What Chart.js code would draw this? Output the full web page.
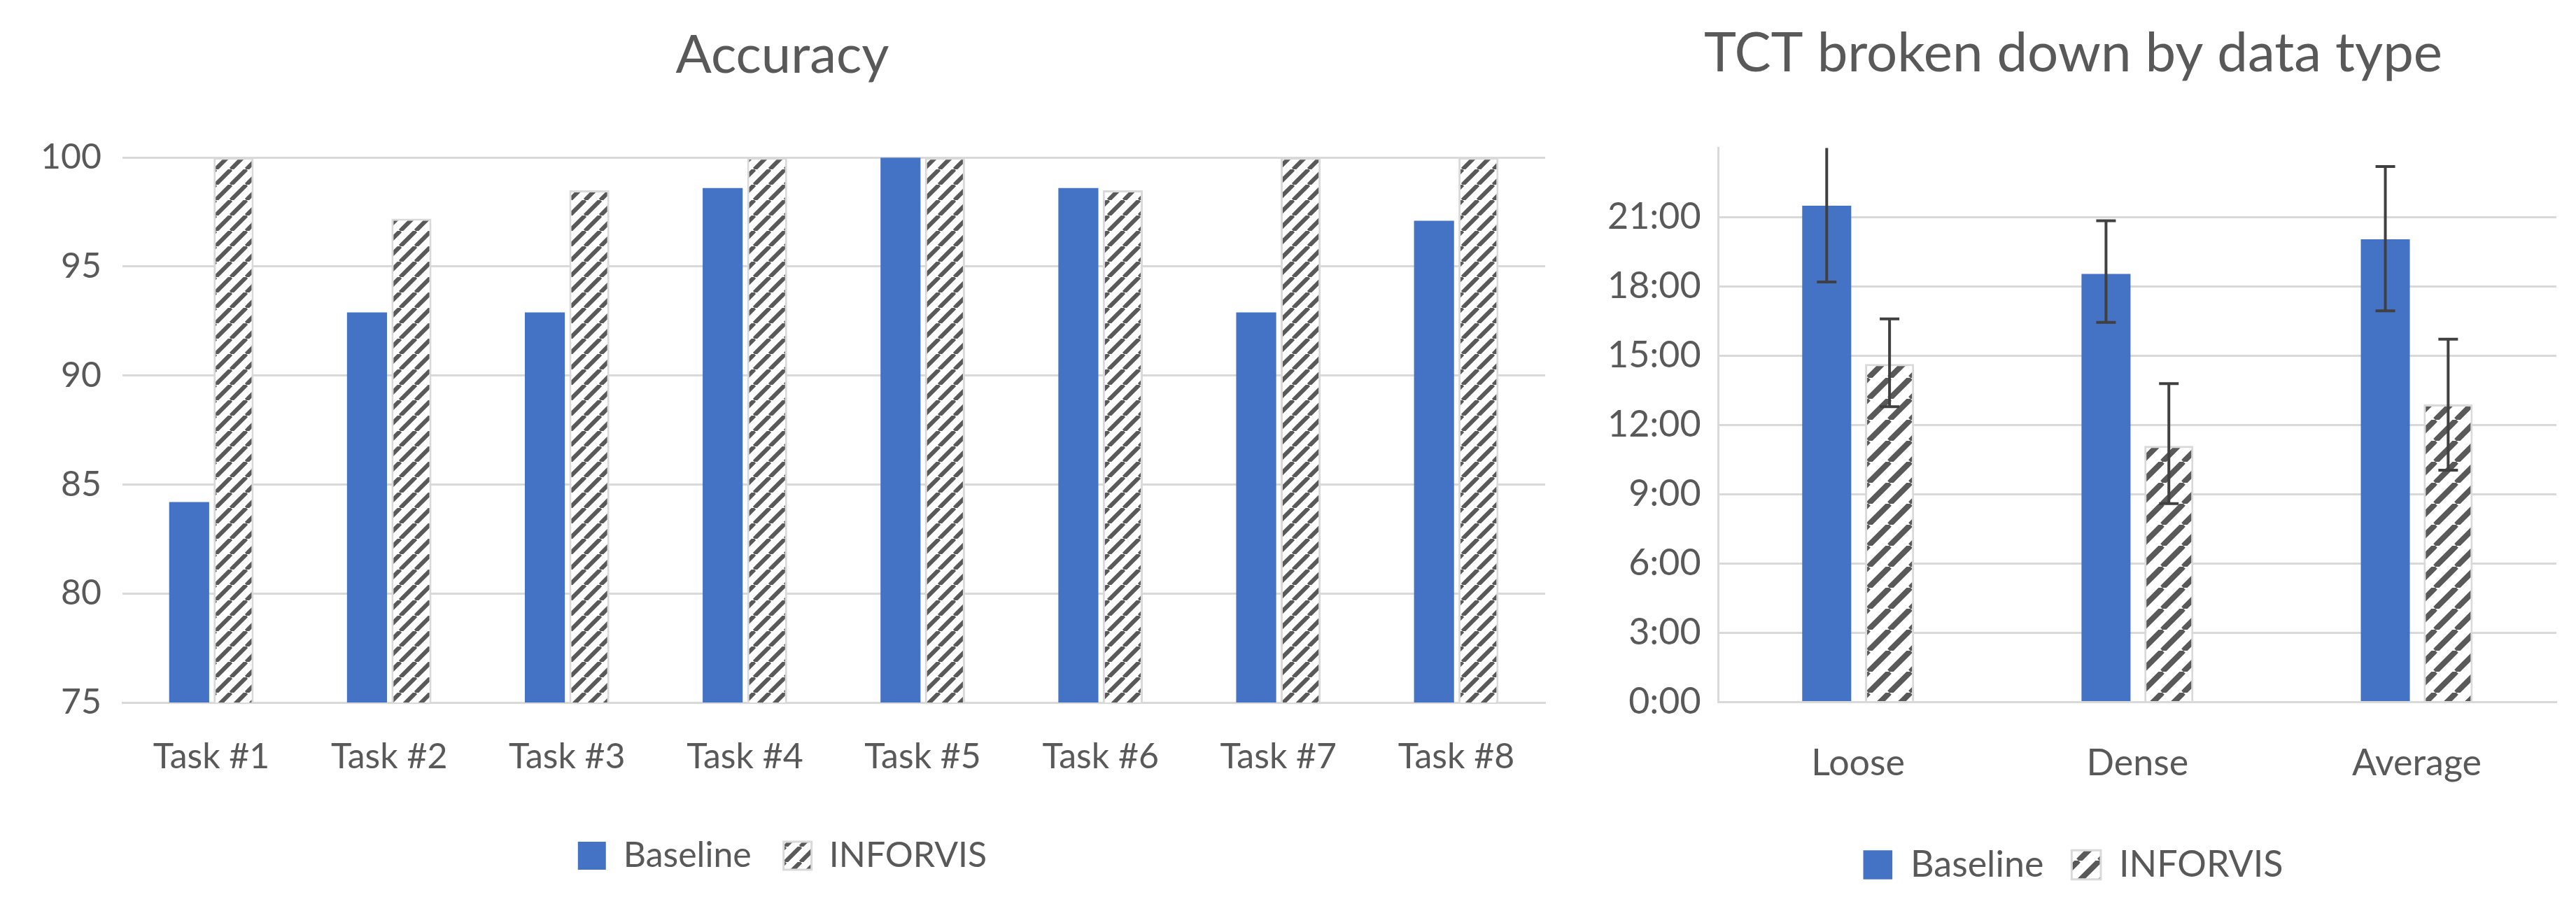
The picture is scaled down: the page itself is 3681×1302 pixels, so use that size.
<!DOCTYPE html>
<html><head><meta charset="utf-8">
<script src="https://cdn.jsdelivr.net/npm/chart.js@4/dist/chart.umd.min.js"></script>
<style>
html,body{margin:0;padding:0;background:#fff;width:3681px;height:1302px;overflow:hidden}
#a{position:absolute;left:0;top:0;width:2250px;height:1302px}
#b{position:absolute;left:2250px;top:0;width:1431px;height:1302px}
</style></head><body>
<div id="a"><canvas id="ca"></canvas></div>
<div id="b"><canvas id="cb"></canvas></div>
<script>
const accCategories = ['Task #1','Task #2','Task #3','Task #4','Task #5','Task #6','Task #7','Task #8'];
const accBaseline = [84.2, 92.9, 92.9, 98.6, 100, 98.6, 92.9, 97.1];
const accInforvis = [100, 97.2, 98.5, 100, 100, 98.5, 100, 100];
const tctCategories = ['Loose','Dense','Average'];
// minutes
const tctBaseline = [21.5, 18.55, 20.05];
const tctBaselineLow = [18.2, 16.45, 16.95];
const tctBaselineHigh = [24.0, 20.85, 23.2];
const tctInforvis = [14.65, 11.1, 12.9];
const tctInforvisLow = [12.8, 8.6, 10.05];
const tctInforvisHigh = [16.6, 13.8, 15.72];

const BLUE = '#4472C4', TXT = '#595959', GRID = '#D9D9D9';
const FONT = 'Lato, "Open Sans", sans-serif';

function hatch(size, lw){
  const c = document.createElement('canvas'); c.width = size; c.height = size;
  const g = c.getContext('2d');
  g.fillStyle = '#fff'; g.fillRect(0,0,size,size);
  g.strokeStyle = '#595959'; g.lineWidth = lw;
  g.beginPath();
  for (let k=-1;k<=1;k++){ g.moveTo(k*size, size); g.lineTo(k*size+size, 0); }
  g.stroke();
  return g.createPattern(c,'repeat');
}
const patA = hatch(22, 6), patB = hatch(30, 8);

Chart.defaults.font.family = FONT;
Chart.defaults.color = TXT;
Chart.defaults.animation = false;
Chart.defaults.devicePixelRatio = 1;

const legendOpts = (fs, pad)=>({position:'bottom', labels:{font:{size:fs}, boxWidth:fs*0.8, boxHeight:fs*0.8, padding:pad, color:TXT}});

new Chart(document.getElementById('ca'), {
  type:'bar',
  data:{labels:accCategories, datasets:[
    {label:'Baseline', data:accBaseline, backgroundColor:BLUE, categoryPercentage:0.5, barPercentage:0.9},
    {label:'INFORVIS', data:accInforvis, backgroundColor:patA, borderColor:GRID, borderWidth:3, categoryPercentage:0.5, barPercentage:0.9}
  ]},
  options:{responsive:true, maintainAspectRatio:false,
    layout:{padding:{left:28,right:42,top:20,bottom:44}},
    plugins:{title:{display:true, text:'Accuracy', font:{size:76, weight:'normal'}, color:TXT, padding:{top:14,bottom:100}},
      legend:legendOpts(50, 46), tooltip:{enabled:false}},
    scales:{
      x:{grid:{display:false}, border:{color:GRID, width:3}, ticks:{font:{size:50}, padding:40}},
      y:{min:75, max:100, ticks:{stepSize:5, font:{size:50}, padding:30}, grid:{color:GRID, lineWidth:3, drawTicks:false}, border:{display:false}}
    }}
});

const errorBars = {
  id:'errorBars',
  afterDatasetsDraw(chart){
    const ctx = chart.ctx, y = chart.scales.y;
    const lows = [tctBaselineLow, tctInforvisLow], highs = [tctBaselineHigh, tctInforvisHigh];
    ctx.save(); ctx.strokeStyle = '#404040'; ctx.lineWidth = 4;
    chart.data.datasets.forEach((ds, di)=>{
      chart.getDatasetMeta(di).data.forEach((bar, i)=>{
        const x = bar.x, yl = y.getPixelForValue(lows[di][i]), yh = y.getPixelForValue(highs[di][i]);
        ctx.beginPath(); ctx.moveTo(x, yl); ctx.lineTo(x, yh);
        ctx.moveTo(x-14, yl); ctx.lineTo(x+14, yl);
        if (highs[di][i] < 24) { ctx.moveTo(x-14, yh); ctx.lineTo(x+14, yh); }
        ctx.stroke();
      });
    });
    ctx.restore();
  }
};

new Chart(document.getElementById('cb'), {
  type:'bar',
  data:{labels:tctCategories, datasets:[
    {label:'Baseline', data:tctBaseline, backgroundColor:BLUE, categoryPercentage:0.45, barPercentage:0.78},
    {label:'INFORVIS', data:tctInforvis, backgroundColor:patB, borderColor:GRID, borderWidth:3, categoryPercentage:0.45, barPercentage:0.78}
  ]},
  plugins:[errorBars],
  options:{responsive:true, maintainAspectRatio:false,
    layout:{padding:{left:22,right:28,top:20,bottom:30}},
    plugins:{title:{display:true, text:'TCT broken down by data type', font:{size:78, weight:'normal'}, color:TXT, padding:{top:10,bottom:88}},
      legend:legendOpts(52, 40), tooltip:{enabled:false}},
    scales:{
      x:{grid:{display:false}, border:{color:GRID, width:3}, ticks:{font:{size:52}, padding:48}},
      y:{min:0, max:24, ticks:{stepSize:3, font:{size:52}, padding:25,
          callback:(v)=> v>=24 ? '' : v+':00'},
        grid:{color:(c)=> c.tick && c.tick.value>=24 ? 'rgba(0,0,0,0)' : GRID, lineWidth:3, drawTicks:false},
        border:{display:true, color:GRID, width:3}}
    }}
});
</script>
</body></html>
